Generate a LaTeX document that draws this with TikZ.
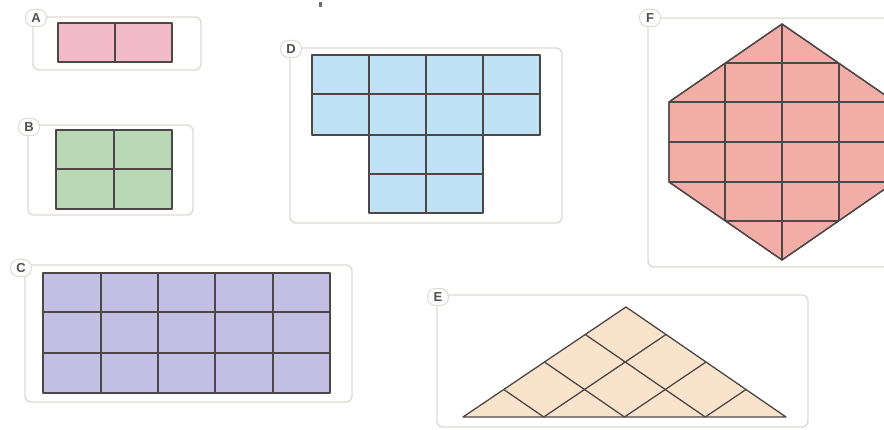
\documentclass[tikz,border=0pt]{standalone}
\usepackage{fontspec}
\setmainfont{Liberation Sans}
\usetikzlibrary{calc}
\definecolor{frm}{HTML}{DEDAD6}
\definecolor{grd}{HTML}{4E4748}
\definecolor{cA}{HTML}{F3BACB}
\definecolor{cB}{HTML}{B9D8B6}
\definecolor{cC}{HTML}{C3BFE4}
\definecolor{cD}{HTML}{BEE2F4}
\definecolor{cE}{HTML}{FAE3CB}
\definecolor{cF}{HTML}{F2AEA6}
\definecolor{lab}{HTML}{505050}
\tikzset{
  frame/.style={draw=frm, line width=1.4pt, rounded corners=6pt},
  gridln/.style={draw=grd, line width=1.3pt, line join=round},
  tag/.style={draw=frm, fill=white, line width=1pt, rounded corners=8pt,
    minimum width=21pt, minimum height=17pt, inner sep=1pt, text=lab,
    font=\bfseries\fontsize{13}{13}\selectfont}
}
\begin{document}
\begin{tikzpicture}[x=1pt,y=-1pt]
\clip (0,0) rectangle (884,430);
\fill[white] (0,0) rectangle (884,430);
% tick mark at top
\fill[grd!80] (319,2) rectangle (322,7);
% ---------- A ----------
\draw[frame] (33,17) rectangle (201,70);
\filldraw[fill=cA, gridln] (58,23) rectangle (172,62);
\draw[gridln] (115,23) -- (115,62);
\node[tag] (tA) at (36,18) {A};
% ---------- B ----------
\draw[frame] (28,125) rectangle (193,215);
\filldraw[fill=cB, gridln] (56,130) rectangle (172,209);
\draw[gridln] (114,130) -- (114,209) (56,169) -- (172,169);
\node[tag] (tB) at (29,127) {B};
% ---------- C ----------
\draw[frame] (25,265) rectangle (352,402);
\filldraw[fill=cC, gridln] (43,273) rectangle (330,393);
\foreach \x in {101,158,215,273} \draw[gridln] (\x,273) -- (\x,393);
\foreach \y in {312,353} \draw[gridln] (43,\y) -- (330,\y);
\node[tag] (tC) at (21,268) {C};
% ---------- D ----------
\draw[frame] (290,48) rectangle (562,223);
\filldraw[fill=cD, gridln] (312,55) -- (540,55) -- (540,135) -- (483,135) -- (483,213)
  -- (369,213) -- (369,135) -- (312,135) -- cycle;
\draw[gridln] (312,94) -- (540,94) (369,135) -- (483,135) (369,174) -- (483,174);
\draw[gridln] (369,55) -- (369,135) (426,55) -- (426,213) (483,55) -- (483,135);
\node[tag] (tD) at (291,49) {D};
% ---------- E ----------
\draw[frame] (437,295) rectangle (808,427);
\coordinate (L) at (463,417);
\coordinate (R) at (786,417);
\coordinate (T) at (626,307);
\filldraw[fill=cE, gridln] (L) -- (T) -- (R) -- cycle;
\foreach \t in {0.25,0.5,0.75}{
  \draw[gridln] ($(L)!\t!(R)$) -- ($(L)!\t!(T)$);
  \draw[gridln] ($(L)!\t!(R)$) -- ($(R)!{1-\t}!(T)$);
}
\node[tag] (tE) at (438,297) {E};
% ---------- F ----------
\draw[frame] (648,18) rectangle (905,267);
\filldraw[fill=cF, gridln] (782,24) -- (669,102) -- (669,182) -- (782,260) -- (895,182) -- (895,102) -- cycle;
\begin{scope}
  \clip (782,24) -- (669,102) -- (669,182) -- (782,260) -- (895,182) -- (895,102) -- cycle;
  \foreach \x in {725,782,839} \draw[gridln] (\x,20) -- (\x,265);
  \foreach \y in {63,102,142,182,221} \draw[gridln] (660,\y) -- (900,\y);
\end{scope}
\draw[gridln] (782,24) -- (669,102) -- (669,182) -- (782,260) -- (895,182) -- (895,102) -- cycle;
\node[tag] (tF) at (650,18) {F};
\end{tikzpicture}
\end{document}
